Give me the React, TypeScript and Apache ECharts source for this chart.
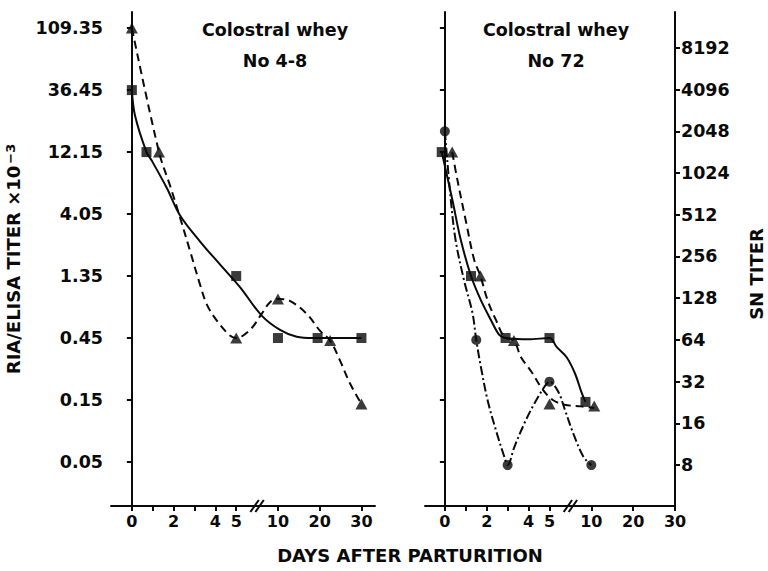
import React, { useEffect, useRef } from "react";
import * as echarts from "echarts";

const FONT = "'DejaVu Sans', 'Liberation Sans', sans-serif";
const INK = "#0a0a0a";

// ---- axis ticks / labels ----
const xLabelDays = [0, 2, 4, 5, 10, 20, 30];
const xTickDays = [0, 1, 2, 3, 4, 5, 10, 20, 30];
const breakDay = 7.5;
const riaTickValues = [0.05, 0.15, 0.45, 1.35, 4.05, 12.15, 36.45, 109.35];
const snTickValues = [8, 16, 32, 64, 128, 256, 512, 1024, 2048, 4096, 8192];

// ---- Left panel: Colostral whey No 4-8 (RIA/ELISA titer x10^-3) ----
const leftSquareDays = [0, 0.7, 5, 10, 19.5, 30];
const leftSquareVals = [36.45, 12.15, 1.35, 0.45, 0.45, 0.45];
const leftTriangleDays = [0, 1.3, 5, 10, 22.5, 30];
const leftTriangleVals = [109.35, 12.15, 0.45, 0.9, 0.43, 0.14];
// fitted solid curve (squares)
const leftSolidDays = [0, 0.15, 0.7, 0.96, 1.68, 2.31, 3.26, 4.22, 5.45, 8.05, 10.5, 14.5, 18.4, 24, 30];
const leftSolidVals = [36.45, 23.2, 12.15, 10.4, 6.4, 3.95, 2.5, 1.66, 1.11, 0.67, 0.52, 0.46, 0.45, 0.45, 0.45];
// dashed curve (triangles)
const leftDashDays = [0, 1.3, 1.83, 2.31, 2.79, 3.26, 3.6, 4.08, 4.7, 5, 6.65, 8.05, 9.05, 10, 12.85, 16.9, 20.1, 22.5, 24.9, 27.3, 30];
const leftDashVals = [109.35, 12.15, 6.7, 3.8, 2.1, 1.17, 0.81, 0.61, 0.47, 0.45, 0.52, 0.69, 0.85, 0.9, 0.87, 0.69, 0.51, 0.43, 0.3, 0.2, 0.14];

// ---- Right panel: Colostral whey No 72 ----
const rightSquareDays = [-0.15, 1.25, 2.9, 5, 9.3];
const rightSquareVals = [12.15, 1.35, 0.45, 0.45, 0.145];
const rightTriangleDays = [0.35, 1.7, 3.3, 5, 10.7];
const rightTriangleVals = [12.15, 1.35, 0.43, 0.14, 0.135];
const rightCircleDays = [0, 1.5, 3, 5, 10];
const rightCircleSN = [2048, 64, 8, 32, 8];
const rightSolidDays = [-0.15, 0.36, 0.75, 1.25, 1.72, 2.2, 2.6, 2.9, 4.0, 5, 5.85, 7.05, 8.05, 8.85, 9.3];
const rightSolidVals = [12.15, 5.2, 2.6, 1.35, 0.88, 0.62, 0.475, 0.45, 0.44, 0.45, 0.385, 0.32, 0.24, 0.17, 0.145];
const rightDashDays = [0.35, 0.6, 1.0, 1.4, 1.7, 2.04, 2.44, 2.84, 3.3, 3.64, 4.12, 4.68, 5.4, 6.8, 8.8, 10.7];
const rightDashVals = [12.15, 7.4, 3.6, 1.8, 1.35, 0.88, 0.62, 0.46, 0.43, 0.32, 0.25, 0.18, 0.15, 0.138, 0.134, 0.13];
const rightDotDashDays = [0, 0.27, 0.51, 0.91, 1.32, 1.5, 1.72, 2.04, 2.44, 2.84, 3, 3.32, 3.8, 4.28, 4.76, 5, 6.05, 6.85, 7.85, 9.05, 10];
const rightDotDashSN = [2048, 690, 338, 174, 100, 64, 41, 23.6, 14.3, 9.2, 8, 10.8, 16, 22.3, 29.4, 32, 27.1, 20, 13.5, 9.2, 8];

// broken x-axis: days 0-5 at 1 unit/day, 5-10 across the break at 0.4 unit/day, beyond 10 at 0.2 unit/day
const dayPos = (d: number) => (d <= 5 ? d : d <= 10 ? 5 + (d - 5) * 0.4 : 7 + (d - 10) * 0.2);
const pts = (days: number[], vals: number[]) => days.map((d, i) => [dayPos(d), vals[i]]);

const xLabelPos = xLabelDays.map(dayPos);
const xTickPos = xTickDays.map(dayPos);

const textBase = { color: INK, fontFamily: FONT, fontWeight: "bold" as const };

function xAxisCfg(gridIndex: number, min: number, max: number) {
  return {
    type: "value",
    gridIndex,
    min,
    max,
    axisLine: { show: true, onZero: false, lineStyle: { color: INK, width: 2 } },
    axisTick: { show: true, customValues: xTickPos, length: 5, lineStyle: { color: INK, width: 2 } },
    axisLabel: {
      customValues: xLabelPos,
      margin: 7,
      ...textBase,
      fontSize: 16,
      formatter: (v: number) => {
        const i = xLabelPos.findIndex((q) => Math.abs(q - v) < 1e-6);
        return i >= 0 ? String(xLabelDays[i]) : "";
      },
    },
    splitLine: { show: false },
  };
}

function riaAxisCfg(gridIndex: number, showLabels: boolean) {
  return {
    type: "log",
    logBase: 3,
    gridIndex,
    position: "left",
    min: 0.05 * Math.pow(3, -0.71),
    max: 0.05 * Math.pow(3, 7.26),
    axisLine: { show: true, lineStyle: { color: INK, width: 2 } },
    axisTick: { show: true, customValues: riaTickValues, length: 5, lineStyle: { color: INK, width: 2 } },
    axisLabel: {
      show: showLabels,
      customValues: riaTickValues,
      margin: 8,
      ...textBase,
      fontSize: 17.5,
      formatter: (v: number) => Number(v).toFixed(2),
    },
    splitLine: { show: false },
  };
}

export default function App() {
  const ref = useRef<HTMLDivElement>(null);

  useEffect(() => {
    document.body.style.margin = "0";
    if (!ref.current) return;
    const chart = echarts.init(ref.current, undefined, { renderer: "svg" });

    const lineSeries = (name: string, xi: number, yi: number, data: number[][], type: any) => ({
      name,
      type: "line",
      xAxisIndex: xi,
      yAxisIndex: yi,
      data,
      smooth: 0.35,
      showSymbol: false,
      symbol: "none",
      lineStyle: { color: INK, width: 2, type },
      z: 2,
    });
    const markSeries = (name: string, xi: number, yi: number, data: number[][], symbol: string, size: any) => ({
      name,
      type: "scatter",
      xAxisIndex: xi,
      yAxisIndex: yi,
      data,
      symbol,
      symbolSize: size,
      itemStyle: { color: INK },
      z: 5,
    });

    const xTitle = {
      type: "text",
      x: 410,
      y: 555,
      style: {
        text: "DAYS AFTER PARTURITION",
        fill: INK,
        font: `bold 18px ${FONT}`,
        textAlign: "center",
        textVerticalAlign: "middle",
      },
    };

    const option: any = {
      animation: false,
      backgroundColor: "#ffffff",
      title: [
        {
          text: "Colostral whey\nNo 4-8",
          left: 275,
          top: 14,
          textAlign: "center",
          padding: 0,
          textStyle: { ...textBase, fontSize: 17.5, lineHeight: 31 },
        },
        {
          text: "Colostral whey\nNo 72",
          left: 556,
          top: 14,
          textAlign: "center",
          padding: 0,
          textStyle: { ...textBase, fontSize: 17.5, lineHeight: 31 },
        },
      ],
      grid: [
        { left: 111, top: 12, width: 264, height: 494 },
        { left: 425, top: 12, width: 250, height: 494 },
      ],
      xAxis: [xAxisCfg(0, -1, 11.65), xAxisCfg(1, -0.95, 11)],
      yAxis: [
        {
          ...riaAxisCfg(0, true),
          name: "RIA/ELISA TITER ×10{sup|−3}",
          nameLocation: "middle",
          nameRotate: 90,
          nameGap: 89,
          nameTextStyle: {
            ...textBase,
            fontSize: 18,
            rich: { sup: { ...textBase, fontSize: 13, verticalAlign: "top", padding: [0, 0, 0, 2] } },
          },
        },
        riaAxisCfg(1, false),
        {
          type: "log",
          logBase: 2,
          gridIndex: 1,
          position: "right",
          min: 8 * Math.pow(2, -0.98),
          max: 8 * Math.pow(2, 10.86),
          axisLine: { show: true, lineStyle: { color: INK, width: 2 } },
          axisTick: { show: true, customValues: snTickValues, length: 5, lineStyle: { color: INK, width: 2 } },
          axisLabel: {
            customValues: snTickValues,
            margin: 6,
            ...textBase,
            fontSize: 17.5,
            formatter: (v: number) => String(Math.round(v)),
          },
          splitLine: { show: false },
          name: "SN TITER",
          nameLocation: "middle",
          nameRotate: 90,
          nameGap: 72,
          nameTextStyle: { ...textBase, fontSize: 18, padding: [0, 30, 0, 0] },
        },
      ],
      series: [
        lineSeries("No 4-8 fit (squares)", 0, 0, pts(leftSolidDays, leftSolidVals), "solid"),
        lineSeries("No 4-8 triangles", 0, 0, pts(leftDashDays, leftDashVals), [8, 5]),
        markSeries("No 4-8 squares", 0, 0, pts(leftSquareDays, leftSquareVals), "rect", 10),
        markSeries("No 4-8 triangle pts", 0, 0, pts(leftTriangleDays, leftTriangleVals), "triangle", [12, 11]),
        lineSeries("No 72 squares", 1, 1, pts(rightSolidDays, rightSolidVals), "solid"),
        lineSeries("No 72 triangles", 1, 1, pts(rightDashDays, rightDashVals), [8, 5]),
        lineSeries("No 72 SN", 1, 2, pts(rightDotDashDays, rightDotDashSN), [9, 3, 2, 3]),
        markSeries("No 72 square pts", 1, 1, pts(rightSquareDays, rightSquareVals), "rect", 10),
        markSeries("No 72 triangle pts", 1, 1, pts(rightTriangleDays, rightTriangleVals), "triangle", [12, 11]),
        markSeries("No 72 circle pts", 1, 2, pts(rightCircleDays, rightCircleSN), "circle", 10),
      ],
      graphic: [xTitle],
    };
    chart.setOption(option);

    // axis break marks "//" on both x axes
    const breaks: any[] = [];
    [0, 1].forEach((xi) => {
      const px = chart.convertToPixel({ xAxisIndex: xi } as any, dayPos(breakDay)) as number;
      const y = 506;
      [-2.5, 2.5].forEach((dx) => {
        breaks.push({
          type: "line",
          z: 10,
          shape: { x1: px + dx - 4.2, y1: y + 6, x2: px + dx + 4.2, y2: y - 6 },
          style: { stroke: INK, lineWidth: 2 },
        });
      });
    });
    chart.setOption({ graphic: [xTitle, ...breaks] });

    return () => chart.dispose();
  }, []);

  return <div ref={ref} style={{ width: 768, height: 571 }} />;
}
